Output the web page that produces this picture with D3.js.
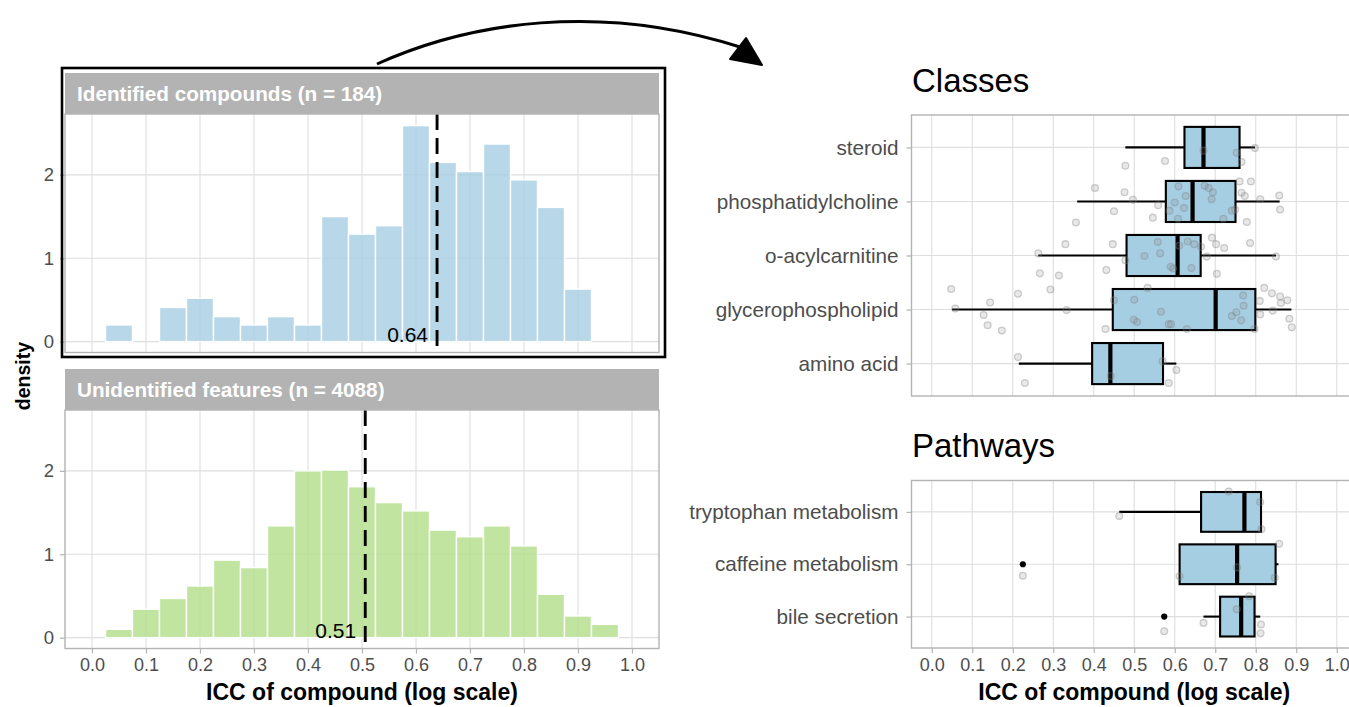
<!DOCTYPE html>
<html>
<head>
<meta charset="utf-8">
<script src="https://cdn.jsdelivr.net/npm/d3@7"></script>
<style>
body { margin: 0; background: #fff; }
svg { font-family: "Liberation Sans", Arial, Helvetica, sans-serif; }
</style>
</head>
<body>
<div id="chart"></div>
<script>
// ---- data ----
var iccTicks = [0.0, 0.1, 0.2, 0.3, 0.4, 0.5, 0.6, 0.7, 0.8, 0.9, 1.0];
var densityTicks = [0, 1, 2];
var binWidth = 0.05;
var binMids = [0.05, 0.10, 0.15, 0.20, 0.25, 0.30, 0.35, 0.40, 0.45, 0.50,
               0.55, 0.60, 0.65, 0.70, 0.75, 0.80, 0.85, 0.90, 0.95];
var identifiedDensity = [0.20, 0, 0.41, 0.52, 0.30, 0.20, 0.30, 0.20, 1.50, 1.29,
                         1.39, 2.59, 2.15, 2.04, 2.37, 1.94, 1.61, 0.63, 0];
var unidentifiedDensity = [0.10, 0.34, 0.47, 0.62, 0.93, 0.84, 1.34, 2.00, 2.01, 1.81,
                           1.62, 1.52, 1.29, 1.21, 1.34, 1.10, 0.52, 0.26, 0.16];
var identifiedMedian = 0.639;
var unidentifiedMedian = 0.506;

var classes = ["steroid", "phosphatidylcholine", "o-acylcarnitine", "glycerophospholipid", "amino acid"];
var classLow = [0.478, 0.359, 0.263, 0.050, 0.215];
var classQ1 = [0.624, 0.578, 0.481, 0.447, 0.396];
var classMed = [0.671, 0.644, 0.607, 0.701, 0.441];
var classQ3 = [0.760, 0.750, 0.664, 0.799, 0.571];
var classHigh = [0.798, 0.859, 0.850, 0.888, 0.604];

// [icc, jitter (fraction of a row)]
var steroidPts = [[0.478,0.34],[0.576,0.25],[0.671,0.06],[0.753,0.10],[0.765,0.27],[0.798,0.01]];
var phosphatidylcholinePts = [[0.356,0.39],[0.403,-0.25],[0.450,0.18],[0.476,-0.17],[0.497,-0.03],[0.546,0.30],
  [0.559,0.07],[0.587,0.17],[0.600,0.02],[0.609,-0.28],[0.623,0.12],[0.627,-0.10],[0.608,0.32],[0.674,-0.29],
  [0.684,-0.25],[0.694,-0.17],[0.691,-0.04],[0.720,0.32],[0.741,0.17],[0.749,0.15],[0.760,-0.37],[0.765,-0.16],
  [0.773,-0.10],[0.788,-0.37],[0.778,0.38],[0.811,-0.04],[0.858,-0.11],[0.860,0.15]];
var acylcarnitinePts = [[0.263,-0.04],[0.267,0.33],[0.314,0.37],[0.330,-0.21],[0.447,-0.21],[0.431,0.27],
  [0.478,0.09],[0.525,0.01],[0.558,-0.25],[0.564,-0.04],[0.590,0.21],[0.596,0.24],[0.611,-0.18],[0.632,-0.26],
  [0.648,-0.21],[0.641,0.23],[0.665,-0.16],[0.679,0.02],[0.692,-0.33],[0.702,-0.21],[0.722,-0.14],[0.704,0.34],
  [0.786,-0.23],[0.850,0.02]];
var glycerophospholipidPts = [[0.048,-0.38],[0.058,-0.02],[0.128,0.10],[0.144,-0.13],[0.138,0.29],[0.173,0.39],
  [0.213,-0.29],[0.293,-0.37],[0.333,0.01],[0.429,0.36],[0.450,-0.17],[0.500,-0.18],[0.499,0.19],[0.507,0.23],
  [0.533,-0.40],[0.566,0.04],[0.585,0.27],[0.591,0.27],[0.630,0.36],[0.741,0.12],[0.752,0.05],[0.764,0.20],
  [0.769,-0.26],[0.770,-0.07],[0.797,0.36],[0.810,-0.16],[0.811,0.09],[0.821,-0.40],[0.840,-0.30],[0.842,0.02],
  [0.860,-0.24],[0.862,-0.12],[0.878,-0.17],[0.883,0.17],[0.889,0.33]];
var aminoAcidPts = [[0.213,-0.12],[0.230,0.36],[0.442,0.23],[0.570,-0.04],[0.585,0.36],[0.604,0.12]];
var classPoints = [steroidPts, phosphatidylcholinePts, acylcarnitinePts, glycerophospholipidPts, aminoAcidPts];
var classOutliers = [[], [], [], [], []];

var pathways = ["tryptophan metabolism", "caffeine metabolism", "bile secretion"];
var pathLow = [0.463, 0.612, 0.671];
var pathQ1 = [0.665, 0.612, 0.712];
var pathMed = [0.772, 0.754, 0.764];
var pathQ3 = [0.813, 0.849, 0.797];
var pathHigh = [0.813, 0.856, 0.811];
var tryptophanPts = [[0.733,-0.39],[0.811,-0.19],[0.463,0.08],[0.814,0.33]];
var caffeinePts = [[0.225,0.22],[0.612,0.23],[0.754,0.06],[0.847,0.26],[0.858,-0.39]];
var bilePts = [[0.574,0.28],[0.671,0.12],[0.753,-0.14],[0.784,-0.39],[0.813,0.15],[0.812,0.32]];
var pathPoints = [tryptophanPts, caffeinePts, bilePts];
var pathOutliers = [[], [0.225], [0.574]];

// ---- layout ----
var width = 1349, height = 707;
var gridCol = "#dedede", borderCol = "#b3b3b3", textCol = "#4d4d4d";

var svg = d3.select("#chart").append("svg")
    .attr("width", width)
    .attr("height", height);

var xL = d3.scaleLinear().domain([-0.05, 1.05]).range([65, 659]);
var xR = d3.scaleLinear().domain([-0.05, 1.05]).range([911.5, 1357]);

function histPanel(stripTop, stripLabel, values, fill, median, showAxis) {
  var top = stripTop + 41, bottom = top + 238.5;
  var y = d3.scaleLinear().domain([-0.13, 2.73]).range([bottom, top]);
  var g = svg.append("g");

  g.append("rect")
    .attr("x", xL.range()[0]).attr("y", stripTop)
    .attr("width", xL.range()[1] - xL.range()[0]).attr("height", top - stripTop)
    .attr("fill", "#b3b3b3");
  g.append("text")
    .attr("x", xL.range()[0] + 12).attr("y", stripTop + 28)
    .attr("fill", "#fff").attr("font-weight", "bold").attr("font-size", 20.7)
    .text(stripLabel);

  g.selectAll(".vgrid").data(iccTicks).enter().append("line")
    .attr("x1", d => xL(d)).attr("x2", d => xL(d))
    .attr("y1", top).attr("y2", bottom)
    .attr("stroke", gridCol).attr("stroke-width", 1.1);
  g.selectAll(".hgrid").data(densityTicks).enter().append("line")
    .attr("x1", xL.range()[0]).attr("x2", xL.range()[1])
    .attr("y1", d => y(d)).attr("y2", d => y(d))
    .attr("stroke", gridCol).attr("stroke-width", 1.1);

  g.selectAll(".bar").data(values.map((v, i) => ({mid: binMids[i], v: v})).filter(d => d.v > 0))
    .enter().append("rect")
    .attr("x", d => xL(d.mid - binWidth / 2))
    .attr("y", d => y(d.v))
    .attr("width", d => xL(d.mid + binWidth / 2) - xL(d.mid - binWidth / 2))
    .attr("height", d => y(0) - y(d.v))
    .attr("fill", fill).attr("fill-opacity", 0.8)
    .attr("stroke", "#fff").attr("stroke-width", 1.4);

  g.append("line")
    .attr("x1", xL(median)).attr("x2", xL(median))
    .attr("y1", top).attr("y2", bottom)
    .attr("stroke", "#000").attr("stroke-width", 2.9)
    .attr("stroke-dasharray", "16,8");
  g.append("text")
    .attr("x", xL(median) - 9).attr("y", y(0))
    .attr("text-anchor", "end").attr("font-size", 21).attr("fill", "#000")
    .text(d3.format(".2f")(median));

  g.append("rect")
    .attr("x", xL.range()[0]).attr("y", top)
    .attr("width", xL.range()[1] - xL.range()[0]).attr("height", bottom - top)
    .attr("fill", "none").attr("stroke", borderCol).attr("stroke-width", 1.4);

  var yAxis = d3.axisLeft(y).tickValues(densityTicks).tickSize(5).tickPadding(6).tickFormat(d3.format("d"));
  var ya = g.append("g").attr("transform", `translate(${xL.range()[0]},0)`).call(yAxis);
  styleAxis(ya, 18.5);

  if (showAxis) {
    var xAxis = d3.axisBottom(xL).tickValues(iccTicks).tickSize(5).tickPadding(5).tickFormat(d3.format(".1f"));
    var xa = g.append("g").attr("transform", `translate(0,${bottom})`).call(xAxis);
    styleAxis(xa, 18);
  }
}

function styleAxis(sel, fs) {
  sel.select(".domain").remove();
  sel.selectAll(".tick line").attr("stroke", borderCol).attr("stroke-width", 1.2);
  sel.selectAll(".tick text").attr("fill", textCol).attr("font-size", fs)
    .attr("font-family", "Liberation Sans, Arial, sans-serif");
}

function boxPanel(top, bottom, cats, lo, q1, med, q3, hi, pts, outs, title, titleY, showAxis) {
  var y = d3.scalePoint().domain(cats).range([top, bottom]).padding(0.6);
  var step = y.step();
  var half = step * 0.38;
  var g = svg.append("g");

  g.append("text")
    .attr("x", 912).attr("y", titleY)
    .attr("font-size", 33).attr("fill", "#000")
    .text(title);

  g.selectAll(".vgrid").data(iccTicks).enter().append("line")
    .attr("x1", d => xR(d)).attr("x2", d => xR(d))
    .attr("y1", top).attr("y2", bottom)
    .attr("stroke", gridCol).attr("stroke-width", 1.1);
  g.selectAll(".hgrid").data(cats).enter().append("line")
    .attr("x1", xR.range()[0]).attr("x2", xR.range()[1])
    .attr("y1", d => y(d)).attr("y2", d => y(d))
    .attr("stroke", gridCol).attr("stroke-width", 1.1);

  var rows = cats.map((c, i) => ({c: c, lo: lo[i], q1: q1[i], med: med[i], q3: q3[i], hi: hi[i], outs: outs[i]}));

  // whiskers
  g.selectAll(".whL").data(rows).enter().append("line")
    .attr("x1", d => xR(d.lo)).attr("x2", d => xR(d.q1))
    .attr("y1", d => y(d.c)).attr("y2", d => y(d.c))
    .attr("stroke", "#000").attr("stroke-width", 2.1);
  g.selectAll(".whH").data(rows).enter().append("line")
    .attr("x1", d => xR(d.q3)).attr("x2", d => xR(d.hi))
    .attr("y1", d => y(d.c)).attr("y2", d => y(d.c))
    .attr("stroke", "#000").attr("stroke-width", 2.1);
  // boxes
  g.selectAll(".box").data(rows).enter().append("rect")
    .attr("x", d => xR(d.q1)).attr("y", d => y(d.c) - half)
    .attr("width", d => xR(d.q3) - xR(d.q1)).attr("height", half * 2)
    .attr("fill", "#a6cee3").attr("stroke", "#000").attr("stroke-width", 2.1);
  g.selectAll(".med").data(rows).enter().append("line")
    .attr("x1", d => xR(d.med)).attr("x2", d => xR(d.med))
    .attr("y1", d => y(d.c) - half).attr("y2", d => y(d.c) + half)
    .attr("stroke", "#000").attr("stroke-width", 4.2);
  // outliers
  rows.forEach(function(r) {
    g.selectAll(null).data(r.outs).enter().append("circle")
      .attr("cx", d => xR(d)).attr("cy", y(r.c)).attr("r", 3.1)
      .attr("fill", "#000");
  });
  // jittered points
  cats.forEach(function(c, i) {
    g.selectAll(null).data(pts[i]).enter().append("circle")
      .attr("cx", d => xR(d[0]))
      .attr("cy", d => y(c) + d[1] * step)
      .attr("r", 3.4)
      .attr("fill", "#7f7f7f").attr("fill-opacity", 0.18)
      .attr("stroke", "#7f7f7f").attr("stroke-opacity", 0.36).attr("stroke-width", 1.3);
  });

  g.append("rect")
    .attr("x", xR.range()[0]).attr("y", top)
    .attr("width", xR.range()[1] - xR.range()[0]).attr("height", bottom - top)
    .attr("fill", "none").attr("stroke", borderCol).attr("stroke-width", 1.4);

  var yAxis = d3.axisLeft(y).tickSize(5).tickPadding(8);
  var ya = g.append("g").attr("transform", `translate(${xR.range()[0]},0)`).call(yAxis);
  styleAxis(ya, 20.7);

  if (showAxis) {
    var xAxis = d3.axisBottom(xR).tickValues(iccTicks).tickSize(5).tickPadding(5).tickFormat(d3.format(".1f"));
    var xa = g.append("g").attr("transform", `translate(0,${bottom})`).call(xAxis);
    styleAxis(xa, 18);
  }
}

histPanel(73, "Identified compounds (n = 184)", identifiedDensity, "#a6cee3", identifiedMedian, false);
histPanel(369, "Unidentified features (n = 4088)", unidentifiedDensity, "#b2df8a", unidentifiedMedian, true);

// black frame around the identified facet
svg.append("rect")
  .attr("x", 62).attr("y", 68).attr("width", 603).attr("height", 289)
  .attr("fill", "none").attr("stroke", "#000").attr("stroke-width", 2.6);

boxPanel(115, 396, classes, classLow, classQ1, classMed, classQ3, classHigh, classPoints, classOutliers, "Classes", 92, false);
boxPanel(480.5, 648, pathways, pathLow, pathQ1, pathMed, pathQ3, pathHigh, pathPoints, pathOutliers, "Pathways", 457, true);

// axis titles
svg.append("text")
  .attr("x", (xL.range()[0] + xL.range()[1]) / 2).attr("y", 700)
  .attr("text-anchor", "middle").attr("font-weight", "bold").attr("font-size", 23)
  .text("ICC of compound (log scale)");
svg.append("text")
  .attr("x", (xR.range()[0] + xR.range()[1]) / 2).attr("y", 700)
  .attr("text-anchor", "middle").attr("font-weight", "bold").attr("font-size", 23)
  .text("ICC of compound (log scale)");
svg.append("text")
  .attr("transform", "translate(30,376) rotate(-90)")
  .attr("text-anchor", "middle").attr("font-weight", "bold").attr("font-size", 19.5)
  .text("density");

// curved arrow from the identified facet to the right-hand panels
svg.append("path")
  .attr("d", "M377,64 C470,22 600,2 740,47")
  .attr("fill", "none").attr("stroke", "#000").attr("stroke-width", 3);
svg.append("path")
  .attr("d", "M730,59 L746,38 L762,65 Z")
  .attr("fill", "#000").attr("stroke", "#000").attr("stroke-width", 2).attr("stroke-linejoin", "round");
</script>
</body>
</html>
